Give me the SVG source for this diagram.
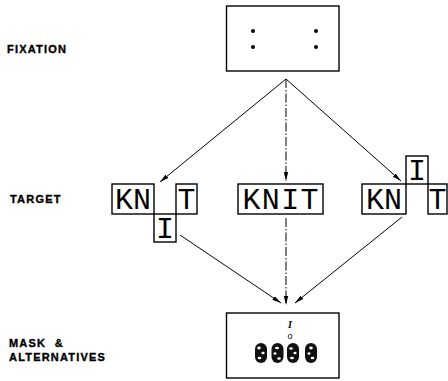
<svg xmlns="http://www.w3.org/2000/svg" width="448" height="381" viewBox="0 0 448 381">
<defs>
<marker id="ah" markerWidth="10" markerHeight="6" refX="9" refY="3" orient="auto" markerUnits="userSpaceOnUse">
<path d="M0,0.8 L9,3 L0,5.2 Z" fill="#000"/>
</marker>
<style>
.lbl{font-family:"Liberation Sans",Arial,sans-serif;font-weight:bold;font-size:11px;letter-spacing:1.2px;fill:#000;stroke:#000;stroke-width:0.35}
.box{fill:#fff;stroke:#000;stroke-width:1.4}
.tg{font-family:"Liberation Mono","DejaVu Sans Mono",monospace;font-size:30px;fill:#000}
.ln{stroke:#000;stroke-width:1;fill:none}
.blob{fill:#111}
.sp{fill:#fff}
</style>
</defs>
<rect width="448" height="381" fill="#fff"/>

<g id="labels">
<text class="lbl" x="7" y="53">FIXATION</text>
<text class="lbl" x="10" y="203">TARGET</text>
<text class="lbl" x="9" y="347" xml:space="preserve">MASK  &amp;</text>
<text class="lbl" x="9" y="361">ALTERNATIVES</text>
</g>

<g id="fixation">
<rect class="box" x="226.5" y="6" width="112.5" height="65"/>
<circle cx="253" cy="31" r="2"/>
<circle cx="253" cy="47" r="2"/>
<circle cx="316" cy="31" r="2"/>
<circle cx="316" cy="47" r="2"/>
</g>

<g id="target-left">
<rect class="box" x="112" y="184" width="42" height="30"/>
<rect class="box" x="176" y="184" width="21" height="30"/>
<rect class="box" x="154" y="214" width="22" height="28"/>
<text class="tg" x="133" y="209" text-anchor="middle" textLength="36" lengthAdjust="spacingAndGlyphs">KN</text>
<text class="tg" x="186.5" y="209" text-anchor="middle">T</text>
<text class="tg" x="165" y="238" text-anchor="middle">I</text>
</g>

<g id="target-middle">
<rect class="box" x="238" y="184" width="85" height="30"/>
<text class="tg" x="280.5" y="209" text-anchor="middle" textLength="76" lengthAdjust="spacing">KNIT</text>
</g>

<g id="target-right">
<rect class="box" x="362" y="184" width="44" height="30"/>
<rect class="box" x="406" y="156" width="22" height="28"/>
<rect class="box" x="428" y="184" width="19" height="30"/>
<text class="tg" x="384" y="209" text-anchor="middle" textLength="36" lengthAdjust="spacingAndGlyphs">KN</text>
<text class="tg" x="417" y="180" text-anchor="middle">I</text>
<text class="tg" x="437.5" y="209" text-anchor="middle">T</text>
</g>

<g id="mask">
<rect class="box" x="226.5" y="313" width="112.5" height="65"/>
<text x="290" y="328" text-anchor="middle" font-family="Liberation Serif,serif" font-style="italic" font-weight="bold" font-size="10">I</text>
<text x="290" y="339" text-anchor="middle" font-family="Liberation Sans,sans-serif" font-size="9">o</text>
<g>
<rect class="blob" x="255" y="343" width="12" height="20" rx="6"/>
<rect class="blob" x="271.5" y="343" width="12" height="20" rx="6"/>
<rect class="blob" x="287" y="343" width="12" height="20" rx="6"/>
<rect class="blob" x="305" y="343" width="12" height="20" rx="6"/>
<ellipse class="sp" cx="259" cy="348" rx="1.8" ry="1.4"/><ellipse class="sp" cx="263" cy="353" rx="1.6" ry="1.2"/><ellipse class="sp" cx="259.5" cy="358" rx="1.8" ry="1.3"/>
<ellipse class="sp" cx="277" cy="348" rx="2" ry="1.3"/><ellipse class="sp" cx="275" cy="353.5" rx="1.5" ry="1.2"/><ellipse class="sp" cx="279" cy="358.5" rx="1.8" ry="1.3"/>
<ellipse class="sp" cx="291" cy="348.5" rx="1.8" ry="1.3"/><ellipse class="sp" cx="295" cy="353" rx="1.6" ry="1.2"/><ellipse class="sp" cx="292" cy="358" rx="2" ry="1.3"/>
<ellipse class="sp" cx="311" cy="348" rx="1.8" ry="1.4"/><ellipse class="sp" cx="309" cy="353.5" rx="1.5" ry="1.2"/><ellipse class="sp" cx="312.5" cy="358" rx="1.8" ry="1.3"/>
</g>
</g>

<g id="connectors">
<line class="ln" x1="286" y1="79" x2="160" y2="182" marker-end="url(#ah)"/>
<line class="ln" x1="286" y1="79" x2="286" y2="181" stroke-dasharray="9 2 1.5 2" marker-end="url(#ah)"/>
<line class="ln" x1="286" y1="79" x2="401" y2="181" marker-end="url(#ah)"/>
<line class="ln" x1="180" y1="235" x2="281" y2="303" marker-end="url(#ah)"/>
<line class="ln" x1="286" y1="218" x2="286" y2="305" stroke-dasharray="9 2 1.5 2" marker-end="url(#ah)"/>
<line class="ln" x1="402" y1="217" x2="295" y2="303" marker-end="url(#ah)"/>
</g>
</svg>
